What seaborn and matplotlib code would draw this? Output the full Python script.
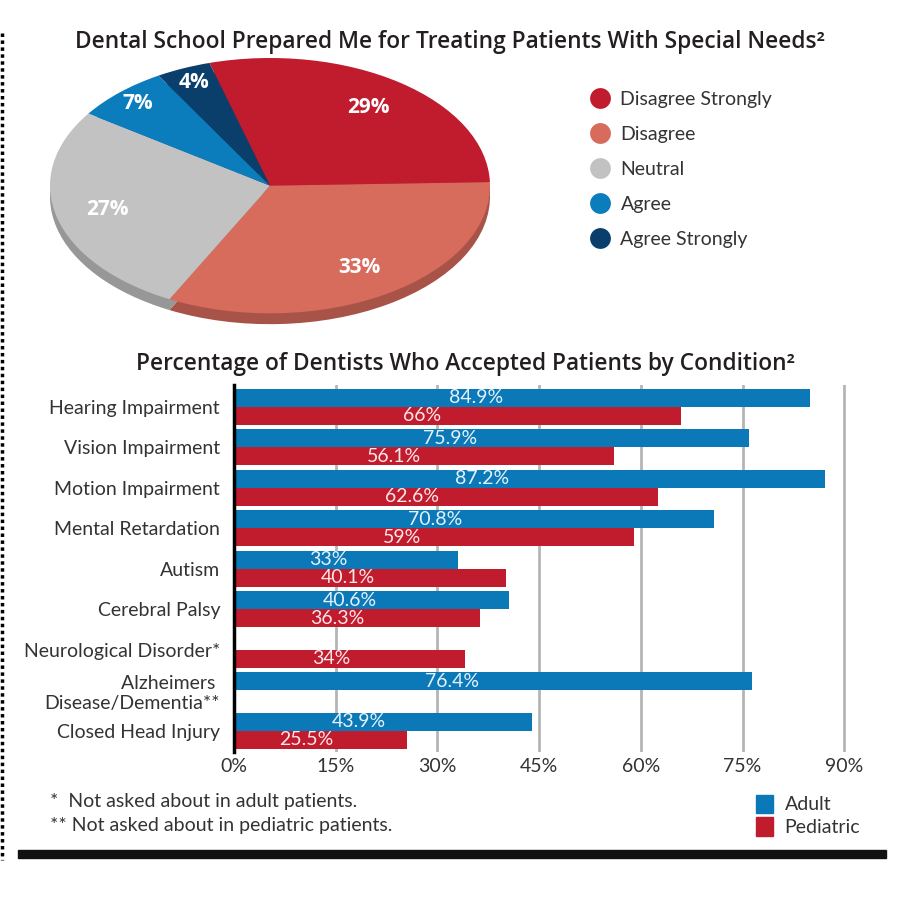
import numpy as np
import pandas as pd
import seaborn as sns
import matplotlib.pyplot as plt
from matplotlib.lines import Line2D
from matplotlib.patches import Rectangle

sns.set_style("white")
narrow = ["Lato", "DejaVu Sans"]
plt.rcParams["font.family"] = narrow

# pie data
pie_labels = ["Disagree Strongly", "Disagree", "Neutral", "Agree", "Agree Strongly"]
pie_values = [29, 33, 27, 7, 4]
pie_colors = ["#c11b2e", "#d76b5c", "#c2c2c2", "#0b7dbd", "#0b3f6b"]

# bar data
conditions = ["Hearing Impairment", "Vision Impairment", "Motion Impairment",
              "Mental Retardation", "Autism", "Cerebral Palsy",
              "Neurological Disorder*", "Alzheimers \nDisease/Dementia**",
              "Closed Head Injury"]
adult = [84.9, 75.9, 87.2, 70.8, 33, 40.6, np.nan, 76.4, 43.9]
pediatric = [66, 56.1, 62.6, 59, 40.1, 36.3, 34, np.nan, 25.5]
groups = ["Adult", "Pediatric"]
bar_colors = ["#0b78b8", "#c11b2e"]
xticks = [0, 15, 30, 45, 60, 75, 90]

fig = plt.figure(figsize=(9, 9), dpi=100)

# ---- pie (flattened, with a rim) ----
ax_pie = fig.add_axes([50 / 900, 1 - 328 / 900, 440 / 900, 270 / 900])
depth = 0.085
shadow = [tuple(np.array(plt.matplotlib.colors.to_rgb(c)) * 0.78) for c in pie_colors]
ax_pie.pie(pie_values, colors=shadow, startangle=106, counterclock=False,
           center=(0, -depth), wedgeprops=dict(linewidth=0))
wedges, _, autotexts = ax_pie.pie(
    pie_values, colors=pie_colors, startangle=106, counterclock=False,
    autopct="%d%%", pctdistance=0.76, wedgeprops=dict(linewidth=0),
    textprops=dict(color="white", fontsize=15, fontweight="bold",
                   family=["Open Sans", "DejaVu Sans"]))
for v, t in zip(pie_values, autotexts):
    if v < 10:
        x, y = t.get_position()
        t.set_position((x * 1.16, y * 1.16))
ax_pie.set_aspect("auto")
ax_pie.set_xlim(-1, 1)
ax_pie.set_ylim(-1 - depth - 0.03, 1)

handles = [Line2D([], [], marker="o", linestyle="", markersize=15,
                  markerfacecolor=c, markeredgewidth=0) for c in pie_colors]
fig.legend(handles, pie_labels, loc="upper left", bbox_to_anchor=(568 / 900, 1 - 73 / 900),
           frameon=False, fontsize=14, labelspacing=0.93, handletextpad=0.3,
           labelcolor="#333333", handlelength=1.5)

fig.text(0.5, 1 - 42 / 900,
         "Dental School Prepared Me for Treating Patients With Special Needs\u00b2",
         ha="center", va="center", fontsize=16.4, fontweight="semibold",
         color="#231f20", family=["Open Sans", "DejaVu Sans"])

# ---- bars ----
df = pd.DataFrame({"Condition": conditions * 2,
                   "Percent": adult + pediatric,
                   "Group": [groups[0]] * len(conditions) + [groups[1]] * len(conditions)})
df = df.dropna()

ax = fig.add_axes([234 / 900, 1 - 752 / 900, 617 / 900, 367 / 900])
sns.barplot(data=df, y="Condition", x="Percent", hue="Group", order=conditions,
            hue_order=groups, palette=bar_colors, width=0.89, orient="h",
            saturation=1, legend=False, ax=ax, linewidth=0)
ax.set_xlim(0, 91)
ax.set_ylim(8.52, -0.54)
ax.set_xticks(xticks)
ax.set_xticklabels([f"{t}%" for t in xticks])
ax.set_xlabel("")
ax.set_ylabel("")
ax.xaxis.grid(True, color="#b5b5b5", linewidth=2)
ax.set_axisbelow(True)
for s in ["top", "right", "bottom"]:
    ax.spines[s].set_visible(False)
ax.spines["left"].set_color("black")
ax.spines["left"].set_linewidth(2.5)
ax.tick_params(axis="both", length=0, labelsize=14, colors="#333333")
ax.tick_params(axis="y", pad=10)
ax.tick_params(axis="x", pad=4)
for lab in ax.get_yticklabels():
    lab.set_multialignment("right")

text_colors = ["#e4f3fb", "#fde6e8"]
for cont, tc in zip(ax.containers, text_colors):
    for bar in cont:
        w = bar.get_width()
        if np.isnan(w) or w == 0:
            continue
        ax.text(w * 0.42, bar.get_y() + bar.get_height() / 2, f"{w:g}%",
                ha="center", va="center", color=tc, fontsize=14)

fig.text(465 / 900, 1 - 364 / 900,
         "Percentage of Dentists Who Accepted Patients by Condition\u00b2",
         ha="center", va="center", fontsize=16.4, fontweight="semibold",
         color="#231f20", family=["Open Sans", "DejaVu Sans"])

# ---- footnotes and bar legend ----
fig.text(50 / 900, 1 - 801 / 900, "*  Not asked about in adult patients.",
         ha="left", va="center", fontsize=14, color="#333333")
fig.text(50 / 900, 1 - 826 / 900, "** Not asked about in pediatric patients.",
         ha="left", va="center", fontsize=14, color="#333333")
bar_handles = [Rectangle((0, 0), 1, 1, color=c) for c in bar_colors]
fig.legend(bar_handles, groups, loc="upper left", bbox_to_anchor=(738 / 900, 1 - 777 / 900),
           frameon=False, fontsize=14, handlelength=0.9, handleheight=1.1,
           handletextpad=0.6, labelspacing=0.2, labelcolor="#333333")

# page decorations
fig.add_artist(Line2D([2 / 900, 2 / 900], [1 - 33 / 900, 1 - 860 / 900],
                      color="black", linestyle=(0, (1, 1)), linewidth=2.5))
fig.add_artist(Rectangle((18 / 900, 1 - 858 / 900), 868 / 900, 8 / 900,
                         color="#111111", transform=fig.transFigure))

fig.savefig("out.png", dpi=100)
